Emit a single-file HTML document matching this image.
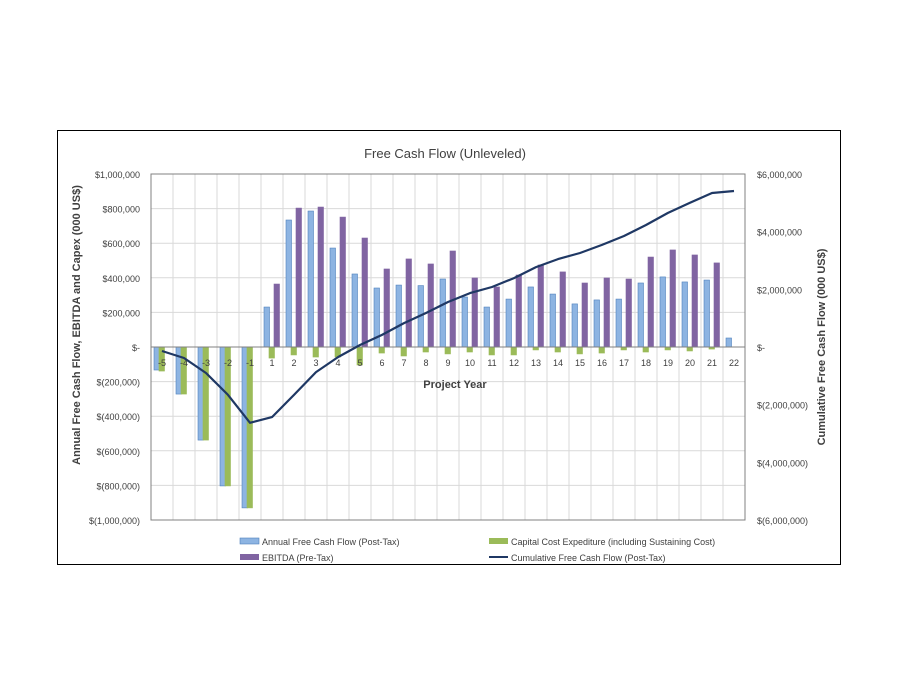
<!DOCTYPE html>
<html><head><meta charset="utf-8"><style>
body{margin:0;background:#fff;}
svg text{font-family:"Liberation Sans",sans-serif;fill:#404040;}
</style></head><body>
<svg id="chart" width="899" height="695" xmlns="http://www.w3.org/2000/svg">
<rect x="57.5" y="130.5" width="783" height="434" fill="#fff" stroke="#000" stroke-width="1"/>
<text x="445" y="158" font-size="13" text-anchor="middle" fill="#404040">Free Cash Flow (Unleveled)</text>
<g id="grid"></g><g id="bars"></g><g id="axes"></g><g id="line"></g>
<text x="455" y="388" font-size="11" font-weight="bold" text-anchor="middle">Project Year</text>
<text transform="translate(80,325) rotate(-90)" font-size="11" font-weight="bold" text-anchor="middle">Annual Free Cash Flow, EBITDA and Capex (000 US$)</text>
<text transform="translate(825,347) rotate(-90)" font-size="11" font-weight="bold" text-anchor="middle">Cumulative Free Cash Flow (000 US$)</text>
<g font-size="9">
<g><rect x="240" y="538" width="19" height="6" fill="#8db4e2" stroke="#4f81bd" stroke-width="0.6"/><text x="262" y="545" font-size="9">Annual Free Cash Flow (Post-Tax)</text></g>
<g><rect x="489" y="538" width="19" height="6" fill="#9bbb59"/><text x="511" y="545" font-size="9">Capital Cost Expediture (including Sustaining Cost)</text></g>
<g><rect x="240" y="554" width="19" height="6" fill="#8064a2"/><text x="262" y="561" font-size="9">EBITDA (Pre-Tax)</text></g>
<g><line x1="489" y1="557" x2="508" y2="557" stroke="#1f3864" stroke-width="2"/><text x="511" y="561" font-size="9">Cumulative Free Cash Flow (Post-Tax)</text></g>
</g>
</svg>
<script>
const categories=["-5","-4","-3","-2","-1","1","2","3","4","5","6","7","8","9","10","11","12","13","14","15","16","17","18","19","20","21","22"];
const fcf=[-133,-272,-538,-803,-930,231,734,786,572,422,341,358,355,393,289,231,277,347,306,249,272,277,370,405,376,387,52];
const capex=[-139,-272,-538,-803,-930,-64,-46,-58,-58,-104,-35,-52,-29,-40,-29,-46,-46,-17,-29,-40,-35,-17,-29,-17,-23,-12,0];
const ebitda=[0,0,0,0,0,364,803,809,751,630,451,509,480,555,399,347,416,474,434,370,399,393,520,561,532,486,0];
const cumulative=[-0.14,-0.38,-0.9,-1.66,-2.63,-2.43,-1.66,-0.87,-0.35,0.07,0.42,0.83,1.18,1.56,1.87,2.08,2.39,2.77,3.05,3.26,3.54,3.85,4.23,4.65,5.0,5.34,5.41];
const leftTicks=[1000,800,600,400,200,0,-200,-400,-600,-800,-1000];
const leftLabels=["$1,000,000","$800,000","$600,000","$400,000","$200,000","$-","$(200,000)","$(400,000)","$(600,000)","$(800,000)","$(1,000,000)"];
const rightTicks=[6,4,2,0,-2,-4,-6];
const rightLabels=["$6,000,000","$4,000,000","$2,000,000","$-","$(2,000,000)","$(4,000,000)","$(6,000,000)"];
const NS="http://www.w3.org/2000/svg";
const X0=151,X1=745,Y0=174,Y1=520;
const cw=(X1-X0)/categories.length;
const y=v=>Y0+(1000-v)/2000*(Y1-Y0);
const y2=v=>Y0+(6-v)/12*(Y1-Y0);
const xc=i=>X0+i*cw;
function mk(tag,attrs,parent){const e=document.createElementNS(NS,tag);for(const k in attrs)e.setAttribute(k,attrs[k]);document.getElementById(parent).appendChild(e);return e;}
leftTicks.forEach((t,i)=>{
 const l=mk('line',{x1:X0,x2:X1,y1:y(t),y2:y(t),stroke:'#d9d9d9','stroke-width':1},'grid');
 
 
 const tx=mk('text',{x:140,y:y(t)+4,'font-size':9,'text-anchor':'end'},'axes');
 tx.textContent=leftLabels[i];
 
 
});
for(let i=0;i<=categories.length;i++){
 const l=mk('line',{x1:xc(i),x2:xc(i),y1:Y0,y2:Y1,stroke:'#d9d9d9','stroke-width':1},'grid');
 
 
}
rightTicks.forEach((t,i)=>{
 const tx=mk('text',{x:757,y:y2(t)+4,'font-size':9},'axes');
 tx.textContent=rightLabels[i];
 
 
});
const series=[[fcf,'#8db4e2','#4f81bd',3,'bar-fcf'],[capex,'#9bbb59','#9bbb59',8,'bar-capex'],[ebitda,'#8064a2','#8064a2',13,'bar-ebitda']];
series.forEach(s=>{
 s[0].forEach((v,i)=>{
  if(v===0)return;
  const top=Math.min(y(v),y(0)),h=Math.abs(y(v)-y(0));
  const r=mk('rect',{x:xc(i)+s[3],y:top,width:5.5,height:h,fill:s[1],stroke:s[2],'stroke-width':0.6},'bars');
  
  
 });
});
const frame=mk('rect',{x:X0,y:Y0,width:X1-X0,height:Y1-Y0,fill:'none',stroke:'#808080','stroke-width':1},'axes');


const zl=mk('line',{x1:X0,x2:X1,y1:y(0),y2:y(0),stroke:'#808080','stroke-width':1},'axes');


categories.forEach((c,i)=>{
 const t=mk('text',{x:xc(i)+cw/2,y:366,'font-size':9,'text-anchor':'middle'},'axes');
 t.textContent=c;
 
 
});
const pts=cumulative.map((v,i)=>(xc(i)+cw/2).toFixed(1)+','+y2(v).toFixed(1)).join(' ');
const pl=mk('polyline',{points:pts,fill:'none',stroke:'#1f3864','stroke-width':2.2,'stroke-linejoin':'round'},'line');


</script>
</body></html>
